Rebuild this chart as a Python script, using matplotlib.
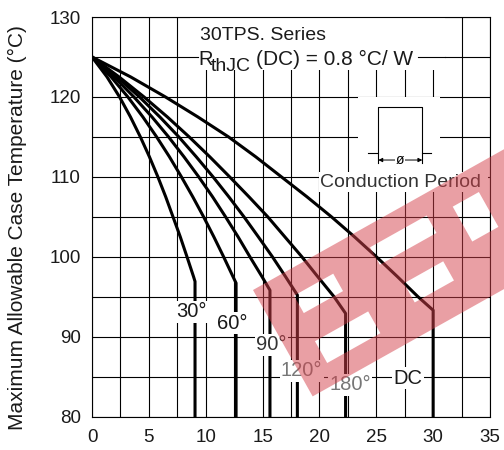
import matplotlib
matplotlib.use("Agg")
import matplotlib.pyplot as plt
from matplotlib.patches import Rectangle, PathPatch
from matplotlib.path import Path
import numpy as np

plt.rcParams['font.family'] = ['Liberation Sans', 'DejaVu Sans']

# ---- data ----
t_steps = [125, 122.5, 120, 117.5, 115, 112.5, 110, 107.5, 105, 102.5, 100, 97.5]
x_30 = [0, 1.32, 2.42, 3.38, 4.25, 5.05, 5.79, 6.48, 7.12, 7.76, 8.35, 8.93, 9.06, 9.06]
t_30 = t_steps + [96.9, 80]
x_60 = [0, 1.68, 3.15, 4.47, 5.68, 6.81, 7.86, 8.86, 9.81, 10.71, 11.57, 12.40, 12.67, 12.67]
t_60 = t_steps + [96.7, 80]
x_90 = [0, 1.95, 3.68, 5.27, 6.73, 8.09, 9.38, 10.6, 11.74, 12.84, 13.88, 14.95, 15.65, 15.65]
t_90 = t_steps + [95.8, 80]
x_120 = [0, 2.2, 4.17, 5.96, 7.63, 9.17, 10.64, 12.03, 13.36, 14.62, 15.86, 17.02, 18.06, 18.06]
t_120 = t_steps + [95.2, 80]
x_180 = [0, 2.38, 4.57, 6.62, 8.54, 10.36, 12.1, 13.8, 15.45, 16.95, 18.45, 19.85, 21.28, 22.3, 22.3]
t_180 = t_steps + [95, 92.9, 80]
x_dc = [0, 3.4, 6.45, 9.3, 12.0, 14.4, 16.65, 18.9, 21.05, 23.07, 25.0, 26.86, 28.66, 30.0, 30.0]
t_dc = t_steps + [95, 93.3, 80]

series = [(x_30, t_30), (x_60, t_60), (x_90, t_90),
          (x_120, t_120), (x_180, t_180), (x_dc, t_dc)]
labels = ["30°", "60°", "90°", "120°", "180°", "DC"]
label_pos = [(8.71, 93.1), (12.29, 91.7), (15.8, 88.95),
             (18.44, 85.7), (22.69, 83.95), (27.8, 84.8)]
label_colors = ["#1a1a1a", "#1a1a1a", "#333333", "#777777", "#777777", "#1a1a1a"]

x_ticks = [0, 5, 10, 15, 20, 25, 30, 35]
y_ticks = [80, 90, 100, 110, 120, 130]

W, H = 504, 450
fig = plt.figure(figsize=(W / 100, H / 100), dpi=100)
ax = fig.add_axes([92 / W, 1 - 416.5 / H, (490 - 92) / W, (416.5 - 17) / H])
ax.set_xlim(0, 35)
ax.set_ylim(80, 130)
ax.set_xticks(x_ticks)
ax.set_yticks(y_ticks)
ax.set_xticks(np.arange(0, 35.1, 2.5), minor=True)
ax.set_yticks(np.arange(80, 130.1, 5), minor=True)
ax.tick_params(which='both', length=0)
ax.tick_params(axis='x', labelsize=13.5, pad=9, colors='#1a1a1a')
ax.tick_params(axis='y', labelsize=13.5, pad=8, colors='#1a1a1a')
ax.grid(which='both', color='black', linewidth=0.8, zorder=1)
ax.set_axisbelow(True)
for s in ax.spines.values():
    s.set_linewidth(0.8)
    s.set_color('black')

# white areas behind texts / inset
ax.add_patch(Rectangle((8.6, 123.4), 31.0 - 8.6, 6.6, facecolor='white',
                       edgecolor='none', zorder=1.5))
ax.add_patch(Rectangle((23.4, 110.6), 30.6 - 23.4, 120.0 - 110.6,
                       facecolor='white', edgecolor='none', zorder=1.5))
ax.add_patch(Rectangle((20.0, 108.1), 34.85 - 20.0, 110.6 - 108.1,
                       facecolor='white', edgecolor='none', zorder=1.5))
ax.plot([8.6, 9.3], [125, 125], color='black', lw=0.8, zorder=1.6)
ax.plot([28.7, 31.0], [125, 125], color='black', lw=0.8, zorder=1.6)

# curves
for (xs, ts) in series:
    ax.plot(xs, ts, color='black', lw=2.2, solid_joinstyle='round', zorder=3)

for lab, (lx, ly), c in zip(labels, label_pos, label_colors):
    ax.text(lx, ly, lab, fontsize=14.5, ha='center', va='center', color=c,
            zorder=4, bbox=dict(facecolor='white', edgecolor='none', pad=1.0))

# header texts
ax.text(9.5, 127.1, "30TPS. Series", fontsize=14, ha='left', va='baseline',
        color='#1a1a1a', zorder=4)
ax.text(9.35, 124.0, "R", fontsize=14.5, ha='left', va='baseline',
        color='#1a1a1a', zorder=4)
ax.text(10.45, 123.2, "thJC", fontsize=14, ha='left', va='baseline',
        color='#1a1a1a', zorder=4)
ax.text(14.45, 124.0, "(DC) = 0.8 °C/ W", fontsize=15, ha='left',
        va='baseline', color='#1a1a1a', zorder=4)

# conduction period inset
ax.plot([24.3, 25.18, 25.18, 29.05, 29.05, 29.8],
        [113.0, 113.0, 118.7, 118.7, 113.0, 113.0],
        color='black', lw=0.8, zorder=3)
ax.plot([25.18, 25.18], [113.0, 111.7], color='black', lw=0.8, zorder=3)
ax.plot([29.05, 29.05], [113.0, 111.7], color='black', lw=0.8, zorder=3)
ax.annotate("", xy=(25.18, 112.1), xytext=(29.05, 112.1),
            arrowprops=dict(arrowstyle='<|-|>', color='black', lw=0.7,
                            mutation_scale=6, shrinkA=0, shrinkB=0), zorder=3)
ax.text(27.1, 112.1, "ø", fontsize=10, ha='center', va='center', zorder=4,
        bbox=dict(facecolor='white', edgecolor='none', pad=0.5))
ax.text(20.05, 108.7, "Conduction Period", fontsize=14, ha='left',
        va='baseline', color='#333333', zorder=4)

fig.text(17 / W, 1 - 228 / H, "Maximum Allowable Case Temperature (°C)",
         rotation=90, ha='center', va='center', fontsize=15, color='#1a1a1a')

# watermark (translucent red band with holes)
o = np.array([253.0, 290.0])
u = np.array([0.872, -0.489])
v = np.array([0.489, 0.872])


def quad(u0, u1, v0, v1, rev=False):
    pts = [o + u0 * u + v0 * v, o + u1 * u + v0 * v,
           o + u1 * u + v1 * v, o + u0 * u + v1 * v]
    if rev:
        pts = pts[::-1]
    pts = [(p[0] / W, 1 - p[1] / H) for p in pts]
    return pts + [pts[0]], [Path.MOVETO, Path.LINETO, Path.LINETO,
                            Path.LINETO, Path.CLOSEPOLY]


verts, codes = [], []
for q in [quad(0, 330, 0, 122)] + [quad(*h, rev=True) for h in
                                   [(33, 78, 25, 45), (29, 90, 75, 100),
                                    (123, 188, 20, 40), (135, 180, 68, 90),
                                    (215, 245, 25, 65)]]:
    verts += q[0]
    codes += q[1]
wm = PathPatch(Path(verts, codes), facecolor=(0.83, 0.25, 0.29),
               edgecolor='none', alpha=0.5, transform=fig.transFigure,
               zorder=10)
fig.add_artist(wm)

fig.savefig("out.png", dpi=100)
